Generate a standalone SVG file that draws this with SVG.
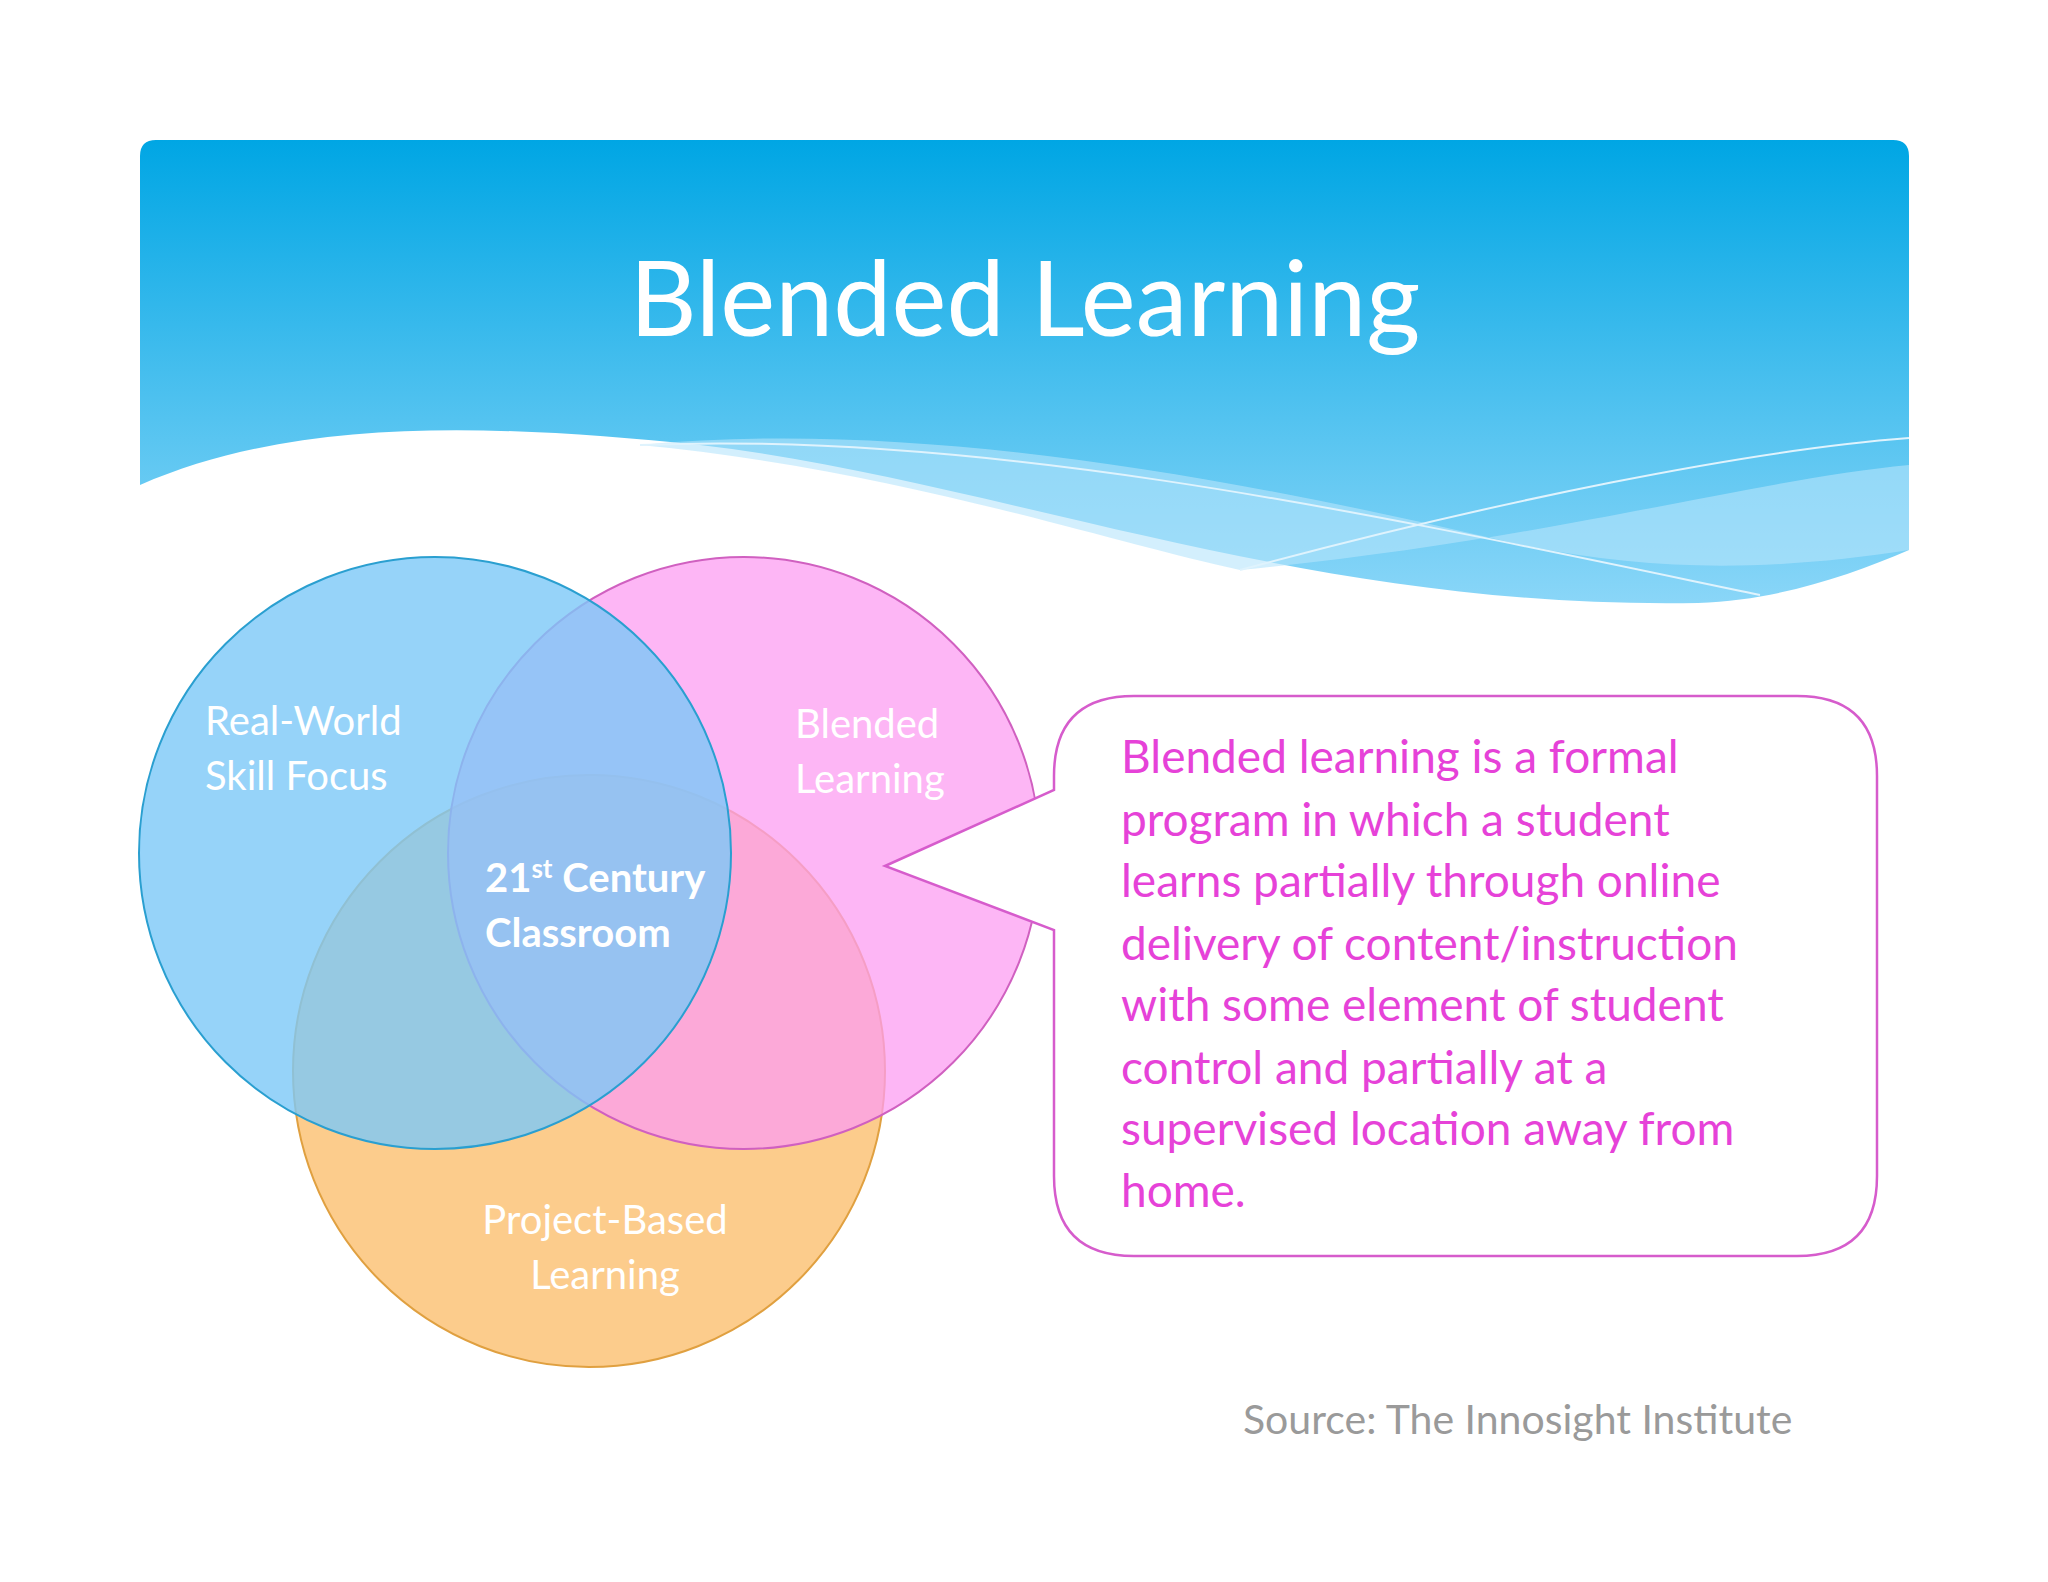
<svg xmlns="http://www.w3.org/2000/svg" width="2048" height="1582" viewBox="0 0 2048 1582">
<defs>
<linearGradient id="hg" x1="0" y1="0" x2="0" y2="1"><stop offset="0" stop-color="#00a6e4"/><stop offset="1" stop-color="#8ad6f8"/></linearGradient>
<style>
text{font-family:Lato,"Open Sans",sans-serif}
.lbl{fill:#fff;font-size:40px}
.cl{fill:#e642d8;font-size:46px}
</style>
</defs>
<rect width="2048" height="1582" fill="#fff"/>
<g id="header">
<path d="M140,156 Q140,140 156,140 L1893,140 Q1909,140 1909,156 L1909,550 C1850,575 1780,600 1698,603 C1300,610 1000,480 700,445 C500,425 300,415 140,485 Z" fill="url(#hg)"/>
<path d="M640,445 C900,420 1200,470 1500,540 C1650,575 1780,570 1909,550 L1909,465 C1750,480 1550,540 1240,570 C1100,540 900,470 640,445 Z" fill="#b5e4fb" opacity="0.6"/>
<path d="M1240,570 C1500,500 1750,450 1909,438" fill="none" stroke="#dff3fd" stroke-width="2"/>
<path d="M640,445 C1000,430 1400,520 1760,595" fill="none" stroke="#dff3fd" stroke-width="2"/>
<text x="1025" y="336" text-anchor="middle" fill="#fff" font-size="104">Blended Learning</text>
</g>
<g id="venn">
<circle cx="589" cy="1071" r="296" fill="#fcc680" fill-opacity="0.9" stroke="#e0a040" stroke-width="2"/>
<circle cx="744" cy="853" r="296" fill="#fc9ef2" fill-opacity="0.75" stroke="#d060c0" stroke-width="2"/>
<circle cx="435" cy="853" r="296" fill="#7cc8f8" fill-opacity="0.8" stroke="#2a9fd0" stroke-width="2"/>
</g>
<g id="labels">
<text class="lbl" x="205" y="735">Real-World</text>
<text class="lbl" x="205" y="790">Skill Focus</text>
<text class="lbl" x="795" y="738">Blended</text>
<text class="lbl" x="795" y="793">Learning</text>
<text class="lbl" x="485" y="892" font-weight="bold">21<tspan font-size="26" dy="-14">st</tspan><tspan dy="14"> Century</tspan></text>
<text class="lbl" x="485" y="947" font-weight="bold">Classroom</text>
<text class="lbl" x="605" y="1234" text-anchor="middle">Project-Based</text>
<text class="lbl" x="605" y="1289" text-anchor="middle">Learning</text>
</g>
<g id="callout">
<path d="M1134,696 L1797,696 Q1877,696 1877,776 L1877,1176 Q1877,1256 1797,1256 L1134,1256 Q1054,1256 1054,1176 L1054,930 L885,866 L1054,790 L1054,776 Q1054,696 1134,696 Z" fill="#fff" stroke="#d65ccc" stroke-width="2.5"/>
<text class="cl" x="1121" y="773">Blended learning is a formal</text>
<text class="cl" x="1121" y="836">program in which a student</text>
<text class="cl" x="1121" y="897">learns partially through online</text>
<text class="cl" x="1121" y="960">delivery of content/instruction</text>
<text class="cl" x="1121" y="1021">with some element of student</text>
<text class="cl" x="1121" y="1084">control and partially at a</text>
<text class="cl" x="1121" y="1145">supervised location away from</text>
<text class="cl" x="1121" y="1207">home.</text>
</g>
<text x="1243" y="1434" fill="#9a9a9a" font-size="41">Source: The Innosight Institute</text>
</svg>
